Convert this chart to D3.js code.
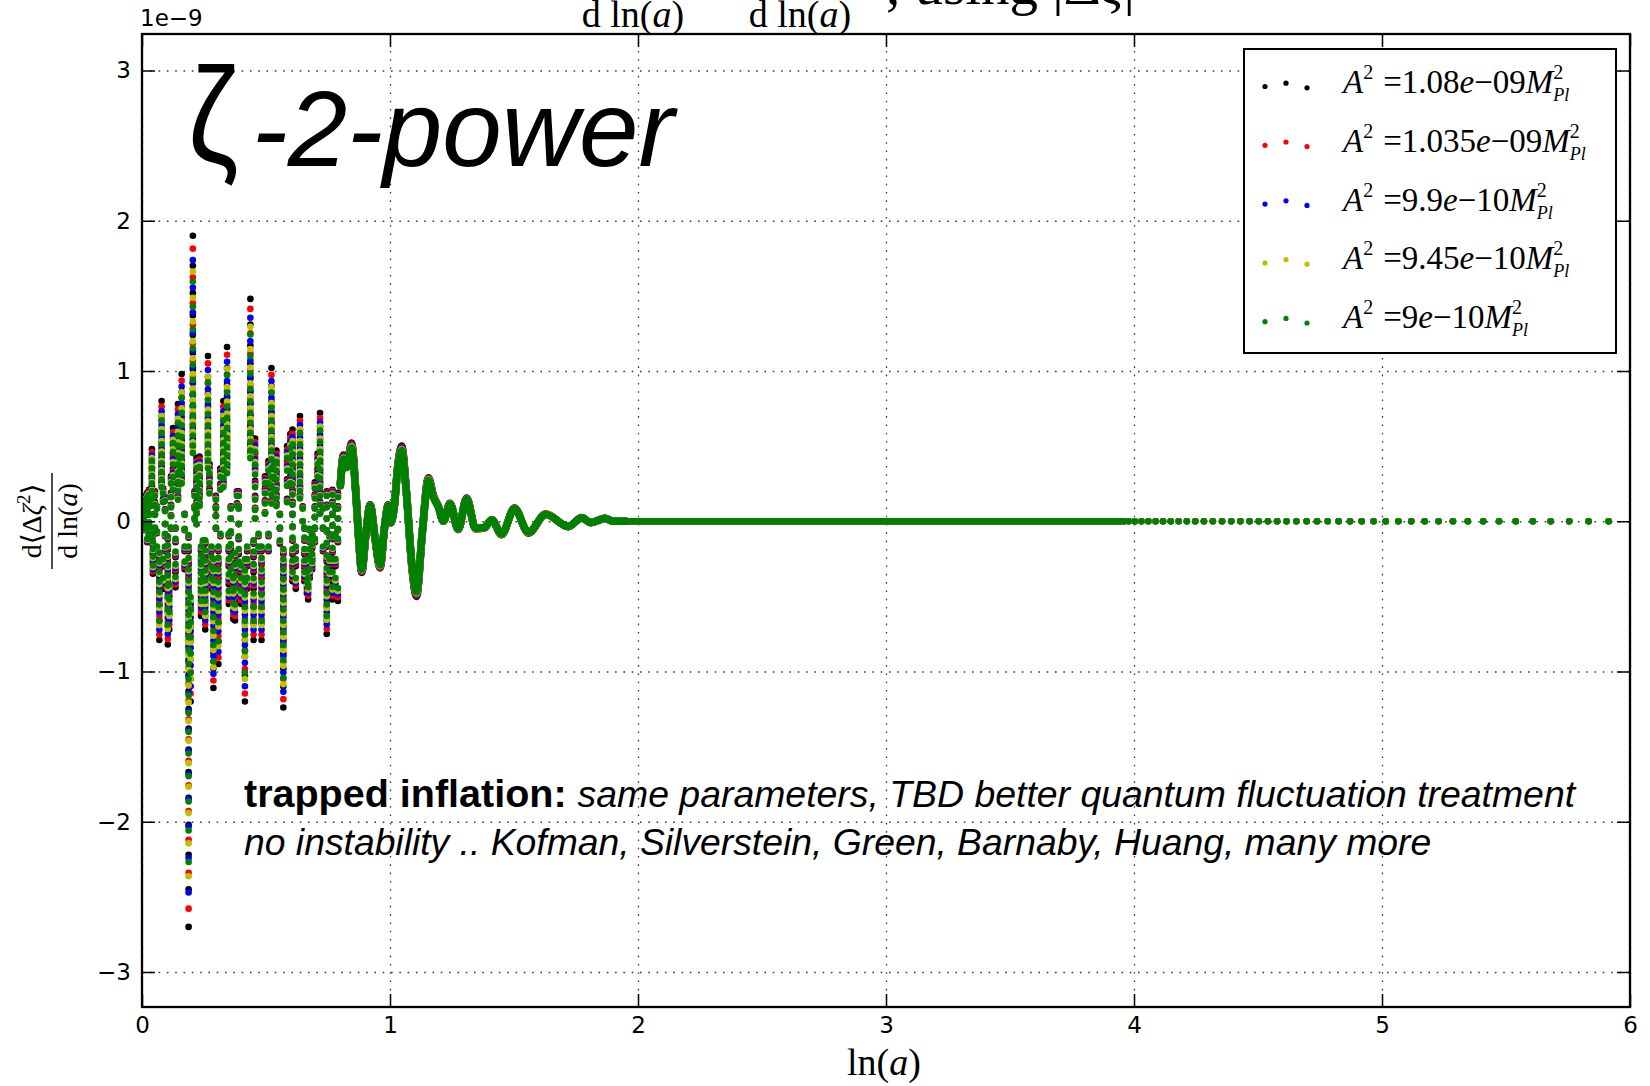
<!DOCTYPE html>
<html>
<head>
<meta charset="utf-8">
<script src="https://cdn.jsdelivr.net/npm/d3@7"></script>
<style>
  html, body { margin: 0; padding: 0; background: #fff; }
  svg { display: block; }
</style>
</head>
<body>
<svg id="chart" width="1650" height="1086"></svg>
<script>
// ---- axes ----
const xDomain = [0, 6];
const yDomain = [-3.233, 3.243];
const xTicks = [0, 1, 2, 3, 4, 5, 6];
const yTicks = [-3, -2, -1, 0, 1, 2, 3];

// ---- runs (one per amplitude A^2) ----
const seriesMantissa = ["1.08", "1.035", "9.9", "9.45", "9"];
const seriesExponent = ["09", "09", "10", "10", "10"];
const seriesColors = ["#000000", "#ff0000", "#0000ff", "#bfbf00", "#008000"];
// relative size of each run in the early burst and in the ring-down
const burstScale = [1, 0.955, 0.915, 0.875, 0.84];
const ringScale = [1, 0.985, 0.97, 0.955, 0.94];

// early burst: each column is [ln(a), samples of the largest run, in units of 1e-9]
const burstColumns = [
  [0.003, [0.06, 0.13, -0.02, 0.00]],
  [0.008, [0.10, 0.16, 0.03]],
  [0.014, [0.17, 0.06, -0.06, 0.10]],
  [0.021, [0.19, -0.04, 0.07, -0.14, 0.13]],
  [0.028, [0.21, 0.14, -0.10, -0.01, 0.05]],
  [0.036, [-0.05, -0.12, 0.12]],
  [0.040, [0.48, 0.42, 0.36, 0.30, 0.24, 0.18]],
  [0.044, [-0.10, -0.16, -0.22, -0.28, -0.35]],
  [0.052, [0.13, 0.05, -0.05, 0.20]],
  [0.060, [0.10, -0.08, -0.20]],
  [0.070, [-0.25, -0.32, -0.40, -0.48, -0.56, -0.66, -0.79]],
  [0.079, [0.80, 0.70, 0.61, 0.53, 0.46, 0.39, 0.33, 0.27]],
  [0.085, [0.22, 0.15, -0.30, -0.45]],
  [0.093, [0.16, 0.08, -0.02, -0.10, -0.20]],
  [0.104, [-0.12, -0.19, -0.27, -0.35, -0.43, -0.51, -0.60, -0.70, -0.82]],
  [0.110, [-0.50, -0.62, -0.72]],
  [0.117, [0.19, 0.11, 0.04, -0.05, 0.30]],
  [0.125, [0.25, 0.35, 0.45, 0.55, 0.62]],
  [0.135, [-0.05, -0.14, -0.24, -0.34, -0.44]],
  [0.145, [0.78, 0.68, 0.60, 0.52, 0.45, 0.38, 0.31, 0.24, 0.17]],
  [0.152, [0.50, 0.40, 0.30]],
  [0.160, [0.98, 0.86, 0.76, 0.67, 0.59, 0.51, 0.44, 0.37, 0.30]],
  [0.172, [0.05, -0.06, -0.20, -0.32]],
  [0.188, [-2.70, -2.45, -2.22, -2.02, -1.84, -1.67, -1.52, -1.38, -1.25, -1.13, -1.02,
           -0.92, -0.83, -0.74, -0.65, -0.56, -0.47, -0.38, -0.29, -0.20, -0.11]],
  [0.196, [-1.20, -1.05, -0.92, -0.80, -0.70, -0.60]],
  [0.205, [1.90, 1.70, 1.52, 1.37, 1.24, 1.12, 1.01, 0.92, 0.84, 0.76, 0.68, 0.60, 0.54]],
  [0.212, [0.20, 0.10, 0.02]],
  [0.220, [0.42, 0.34, 0.27, 0.20, 0.13, 0.06, -0.02]],
  [0.232, [0.43, 0.36, 0.30, 0.24, 0.18, 0.12]],
  [0.238, [-0.20, -0.27, -0.34, -0.41, -0.48, -0.55, -0.63]],
  [0.246, [-0.15, -0.30, -0.45]],
  [0.255, [-0.15, -0.23, -0.31, -0.39, -0.47, -0.55, -0.63, -0.72]],
  [0.266, [1.10, 0.96, 0.85, 0.76, 0.68, 0.61, 0.54, 0.48, 0.42]],
  [0.272, [0.38, 0.30, 0.22]],
  [0.280, [-0.20, -0.28, -0.36, -0.45]],
  [0.288, [-0.30, -0.38, -0.47, -0.56, -0.66, -0.76, -0.87, -0.98, -1.11]],
  [0.298, [0.17, 0.10, 0.04, -0.05]],
  [0.308, [-0.20, -0.29, -0.38, -0.48, -0.58, -0.68, -0.80, -0.95]],
  [0.316, [0.25, 0.35, -0.10]],
  [0.328, [0.80, 0.70, 0.62, 0.55, 0.48, 0.41, 0.34, 0.27]],
  [0.343, [1.16, 1.02, 0.91, 0.82, 0.74, 0.66, 0.59, 0.52, 0.45, 0.38]],
  [0.350, [-0.10, -0.20, -0.30, -0.42, -0.55]],
  [0.358, [0.10, 0.02, -0.08, -0.18, -0.28, -0.38]],
  [0.368, [-0.45, -0.55, -0.65]],
  [0.375, [-0.25, -0.34, -0.43, -0.53, -0.66]],
  [0.383, [0.20, 0.12]],
  [0.390, [0.20, 0.10, -0.02, -0.12, -0.22, -0.32]],
  [0.400, [-0.35, -0.45, -0.55]],
  [0.415, [-0.30, -0.39, -0.48, -0.58, -0.68, -0.79, -0.90, -1.03, -1.20]],
  [0.424, [-0.20, -0.30, -0.45]],
  [0.437, [1.48, 1.31, 1.17, 1.05, 0.95, 0.86, 0.78, 0.70, 0.63, 0.56, 0.50]],
  [0.450, [-0.15, -0.24, -0.34, -0.45, -0.57, -0.68, -0.79]],
  [0.456, [0.55, 0.45, 0.37, 0.27, 0.17, 0.09, 0.02]],
  [0.470, [-0.10, -0.20]],
  [0.482, [-0.20, -0.29, -0.38, -0.48, -0.58, -0.68, -0.79]],
  [0.496, [0.30, 0.22, 0.14, 0.06]],
  [0.510, [0.30, 0.40, -0.10, -0.20]],
  [0.522, [1.02, 0.90, 0.80, 0.72, 0.64, 0.56, 0.49, 0.42, 0.35, 0.28, 0.21, 0.14]],
  [0.532, [0.45, 0.35, 0.25]],
  [0.542, [0.47, 0.40, 0.33, 0.25, 0.18, 0.12]],
  [0.556, [0.05, -0.05, -0.15]],
  [0.570, [-1.24, -1.10, -0.98, -0.88, -0.79, -0.70, -0.62, -0.54, -0.46, -0.38, -0.30, -0.22]],
  [0.585, [0.15, 0.28, 0.40, 0.50]],
  [0.598, [0.30, 0.40, 0.50, 0.58]],
  [0.607, [0.61, 0.53, 0.45, 0.37, 0.29, 0.21, 0.13, 0.05, -0.04, -0.13, -0.22, -0.31, -0.40]],
  [0.620, [-0.20, -0.30, -0.45]],
  [0.637, [0.70, 0.61, 0.53, 0.45, 0.38, 0.31, 0.24, 0.18]],
  [0.648, [0.10, 0.00]],
  [0.655, [-0.05, -0.13, -0.22, -0.31, -0.40]],
  [0.665, [-0.30, -0.40, -0.48]],
  [0.670, [-0.52, -0.45]],
  [0.676, [-0.38, -0.30, -0.22, -0.14, -0.06]],
  [0.686, [-0.10, -0.18, -0.26, -0.32]],
  [0.697, [0.26, 0.18, 0.10, 0.03, -0.05, -0.14]],
  [0.708, [0.35, 0.45]],
  [0.718, [0.72, 0.63, 0.55, 0.48, 0.41, 0.34, 0.27, 0.20, 0.13, 0.06]],
  [0.730, [0.10, -0.05, -0.20]],
  [0.745, [0.20, 0.11, 0.02, -0.07, -0.17, -0.27, -0.37, -0.47, -0.57, -0.66, -0.75]],
  [0.756, [-0.30, -0.40, -0.10]],
  [0.768, [0.21, 0.13, 0.05, -0.03, -0.12, -0.21, -0.30, -0.40, -0.52]],
  [0.780, [0.10, -0.10, -0.30, -0.45]],
  [0.790, [0.19, 0.10, 0.02, -0.06, -0.14, -0.53]]
];

// ring-down: densely sampled, so the dots merge into a band
const ringdown = [
  [0.800, 0.25], [0.812, 0.44], [0.826, 0.38], [0.845, 0.52], [0.862, 0.20],
  [0.874, -0.12], [0.886, -0.34], [0.902, -0.10], [0.920, 0.11], [0.940, -0.12],
  [0.960, -0.31], [0.978, -0.04], [0.993, 0.11], [1.003, -0.01], [1.017, 0.10],
  [1.032, 0.38], [1.047, 0.50], [1.066, 0.20], [1.088, -0.30], [1.107, -0.50],
  [1.130, -0.08], [1.155, 0.29], [1.175, 0.17], [1.195, 0.10], [1.215, 0.00],
  [1.242, 0.12], [1.275, -0.055], [1.309, 0.155], [1.345, -0.05], [1.380, -0.045],
  [1.410, 0.01], [1.450, -0.09], [1.502, 0.088], [1.558, -0.078], [1.628, 0.048],
  [1.719, -0.036], [1.773, 0.024], [1.810, -0.009], [1.867, 0.02], [1.900, 0.0],
  [1.950, 0.0]
];

// settled tail: solid band, then individually visible samples
const tailBand = [[1.95, 0], [3.96, 0]];
const tailDots = [
  [3.978, 0], [4.003, 0], [4.030, 0], [4.058, 0], [4.087, 0], [4.117, 0], [4.148, 0],
  [4.180, 0], [4.213, 0], [4.247, 0],
  [4.282, 0], [4.318, 0], [4.355, 0], [4.392, 0], [4.429, 0], [4.466, 0], [4.503, 0],
  [4.540, 0], [4.577, 0], [4.615, 0], [4.655, 0], [4.696, 0], [4.738, 0], [4.781, 0],
  [4.825, 0], [4.871, 0], [4.918, 0], [4.966, 0], [5.015, 0], [5.066, 0], [5.118, 0],
  [5.172, 0], [5.228, 0], [5.286, 0], [5.346, 0], [5.408, 0], [5.472, 0], [5.539, 0],
  [5.608, 0], [5.680, 0], [5.755, 0], [5.833, 0], [5.914, 0]
];

// ---- layout ----
const plot = { left: 142, right: 1630, top: 34, bottom: 1007 };
const x = d3.scaleLinear().domain(xDomain).range([plot.left, plot.right]);
const y = d3.scaleLinear().domain(yDomain).range([plot.bottom, plot.top]);

const svg = d3.select("#chart");
svg.append("rect").attr("width", 1650).attr("height", 1086).attr("fill", "#fff");

svg.append("defs").append("clipPath").attr("id", "plotClip")
  .append("rect")
  .attr("x", plot.left).attr("y", plot.top)
  .attr("width", plot.right - plot.left).attr("height", plot.bottom - plot.top);

// dotted grid
const grid = svg.append("g");
grid.append("g").attr("transform", `translate(0,${plot.bottom})`)
  .call(d3.axisBottom(x).tickValues(xTicks).tickSize(-(plot.bottom - plot.top)).tickFormat(""));
grid.append("g").attr("transform", `translate(${plot.left},0)`)
  .call(d3.axisLeft(y).tickValues(yTicks).tickSize(-(plot.right - plot.left)).tickFormat(""));
grid.selectAll(".domain").remove();
grid.selectAll("line")
  .attr("stroke", "#3a3a3a").attr("stroke-width", 1.3).attr("stroke-dasharray", "1.6 6.7");

// data
const dataLayer = svg.append("g").attr("clip-path", "url(#plotClip)");
const R = 3.3;
const bandLine = d3.line().x(d => x(d[0])).y(d => y(d[1])).curve(d3.curveMonotoneX);

seriesColors.forEach((color, i) => {
  const g = dataLayer.append("g");
  const burstPts = burstColumns.flatMap(([cx, vals]) => vals.map(v => [cx, v * burstScale[i]]));
  g.append("g").attr("fill", color)
    .selectAll("circle").data(burstPts).join("circle")
    .attr("cx", d => x(d[0])).attr("cy", d => y(d[1])).attr("r", R);

  g.append("path")
    .datum(ringdown.map(([a, b]) => [a, b * ringScale[i]]))
    .attr("d", bandLine)
    .attr("fill", "none").attr("stroke", color).attr("stroke-width", 2 * R + 1)
    .attr("stroke-linejoin", "round").attr("stroke-linecap", "round");

  g.append("path")
    .datum(tailBand)
    .attr("d", bandLine)
    .attr("fill", "none").attr("stroke", color).attr("stroke-width", 2 * R)
    .attr("stroke-linecap", "round");

  g.append("g").attr("fill", color)
    .selectAll("circle").data(tailDots).join("circle")
    .attr("cx", d => x(d[0])).attr("cy", d => y(d[1])).attr("r", R);
});

// inward tick marks on all four sides
const tickLen = 13;
const tickGroups = [
  svg.append("g").attr("transform", `translate(0,${plot.bottom})`).call(d3.axisBottom(x).tickValues(xTicks).tickSize(-tickLen).tickFormat("")),
  svg.append("g").attr("transform", `translate(0,${plot.top})`).call(d3.axisTop(x).tickValues(xTicks).tickSize(-tickLen).tickFormat("")),
  svg.append("g").attr("transform", `translate(${plot.left},0)`).call(d3.axisLeft(y).tickValues(yTicks).tickSize(-tickLen).tickFormat("")),
  svg.append("g").attr("transform", `translate(${plot.right},0)`).call(d3.axisRight(y).tickValues(yTicks).tickSize(-tickLen).tickFormat(""))
];
tickGroups.forEach(g => {
  g.select(".domain").remove();
  g.selectAll("line").attr("stroke", "#000").attr("stroke-width", 1.5);
});

// tick labels
const tickFont = "'DejaVu Sans', sans-serif";
const xLab = svg.append("g").attr("transform", `translate(0,${plot.bottom})`)
  .call(d3.axisBottom(x).tickValues(xTicks).tickSize(0).tickPadding(10).tickFormat(d3.format("d")));
const yLab = svg.append("g").attr("transform", `translate(${plot.left},0)`)
  .call(d3.axisLeft(y).tickValues(yTicks).tickSize(0).tickPadding(11).tickFormat(d3.format("d")));
[xLab, yLab].forEach(g => {
  g.select(".domain").remove();
  g.selectAll("text").attr("font-family", tickFont).attr("font-size", 23).attr("fill", "#000");
});

// frame
svg.append("rect")
  .attr("x", plot.left).attr("y", plot.top)
  .attr("width", plot.right - plot.left).attr("height", plot.bottom - plot.top)
  .attr("fill", "none").attr("stroke", "#000").attr("stroke-width", 2.3);

// offset text
svg.append("text").attr("x", 140).attr("y", 26)
  .attr("font-family", tickFont).attr("font-size", 23).text("1e\u22129");

// heading running off the top edge
const serif = "'Liberation Serif', 'DejaVu Serif', serif";
[633, 800].forEach(cx => {
  const t = svg.append("text").attr("x", cx).attr("y", 27).attr("text-anchor", "middle")
    .attr("font-family", serif).attr("font-size", 38);
  t.append("tspan").text("d ln(");
  t.append("tspan").attr("font-style", "italic").text("a");
  t.append("tspan").text(")");
});
const head = svg.append("text").attr("x", 886).attr("y", 4)
  .attr("font-family", serif).attr("font-size", 57);
head.append("tspan").text(", using |\u0394");
head.append("tspan").attr("font-style", "italic").text("\u03b6");
head.append("tspan").text("|");

// axis titles
const xTitle = svg.append("text").attr("x", 884).attr("y", 1075).attr("text-anchor", "middle")
  .attr("font-family", serif).attr("font-size", 38);
xTitle.append("tspan").text("ln(");
xTitle.append("tspan").attr("font-style", "italic").text("a");
xTitle.append("tspan").text(")");

const yTitle = svg.append("g").attr("transform", "translate(52,521) rotate(-90)")
  .attr("font-family", serif).attr("font-size", 28);
const num = yTitle.append("text").attr("x", 0).attr("y", -11).attr("text-anchor", "middle");
num.append("tspan").text("d\u27e8\u0394");
num.append("tspan").attr("font-style", "italic").text("\u03b6");
num.append("tspan").attr("font-size", 19).attr("dy", -11).text("2");
num.append("tspan").attr("dy", 11).text("\u27e9");
yTitle.append("line").attr("x1", -48).attr("x2", 48).attr("y1", 0).attr("y2", 0)
  .attr("stroke", "#000").attr("stroke-width", 1.4);
const den = yTitle.append("text").attr("x", 0).attr("y", 25).attr("text-anchor", "middle");
den.append("tspan").text("d ln(");
den.append("tspan").attr("font-style", "italic").text("a");
den.append("tspan").text(")");

// big panel title: tall upright zeta, then italic text
const sans = "'Liberation Sans', Arial, sans-serif";
svg.append("text").attr("transform", "translate(188,162) scale(0.84,1)")
  .attr("font-family", sans).attr("font-size", 136).attr("fill", "#000")
  .text("\u03b6");
svg.append("text").attr("x", 252).attr("y", 166)
  .attr("font-family", sans).attr("font-size", 107).attr("font-style", "italic").attr("fill", "#000")
  .text("-2-power");

// annotation
const note1 = svg.append("text").attr("x", 244).attr("y", 807)
  .attr("font-family", sans);
note1.append("tspan").attr("font-weight", "bold").attr("font-size", 39.5).text("trapped inflation: ");
note1.append("tspan").attr("font-style", "italic").attr("font-size", 37.4)
  .text("same parameters, TBD better quantum fluctuation treatment");
svg.append("text").attr("x", 244).attr("y", 855)
  .attr("font-family", sans).attr("font-size", 37.3).attr("font-style", "italic")
  .text("no instability .. Kofman, Silverstein, Green, Barnaby, Huang, many more");

// legend
const legend = svg.append("g");
legend.append("rect").attr("x", 1244).attr("y", 49).attr("width", 372).attr("height", 304)
  .attr("fill", "#fff").attr("stroke", "#000").attr("stroke-width", 2);
const markerX = [1265, 1286, 1307];
const markerDy = [0.5, -2.8, 1.8];
seriesColors.forEach((color, i) => {
  const cy = 86 + i * 58.8;
  legend.append("g").attr("fill", color)
    .selectAll("circle").data(markerX).join("circle")
    .attr("cx", d => d).attr("cy", (d, k) => cy + markerDy[k]).attr("r", 2.6);
  const fs = 33, ss = 20;
  const t = legend.append("text").attr("x", 1343).attr("y", cy + 7)
    .attr("font-family", serif).attr("font-size", fs);
  t.append("tspan").attr("font-style", "italic").text("A");
  t.append("tspan").attr("font-size", ss).attr("dy", -14).text("2");
  t.append("tspan").attr("dy", 14).attr("dx", 10).text("=" + seriesMantissa[i]);
  t.append("tspan").attr("font-style", "italic").text("e");
  t.append("tspan").text("\u2212" + seriesExponent[i]);
  t.append("tspan").attr("font-style", "italic").text("M");
  t.append("tspan").attr("font-size", ss).attr("dy", -14).text("2");
  t.append("tspan").attr("font-size", ss - 2).attr("font-style", "italic")
    .attr("dx", -0.5 * ss).attr("dy", 22).text("Pl");
});
</script>
</body>
</html>
